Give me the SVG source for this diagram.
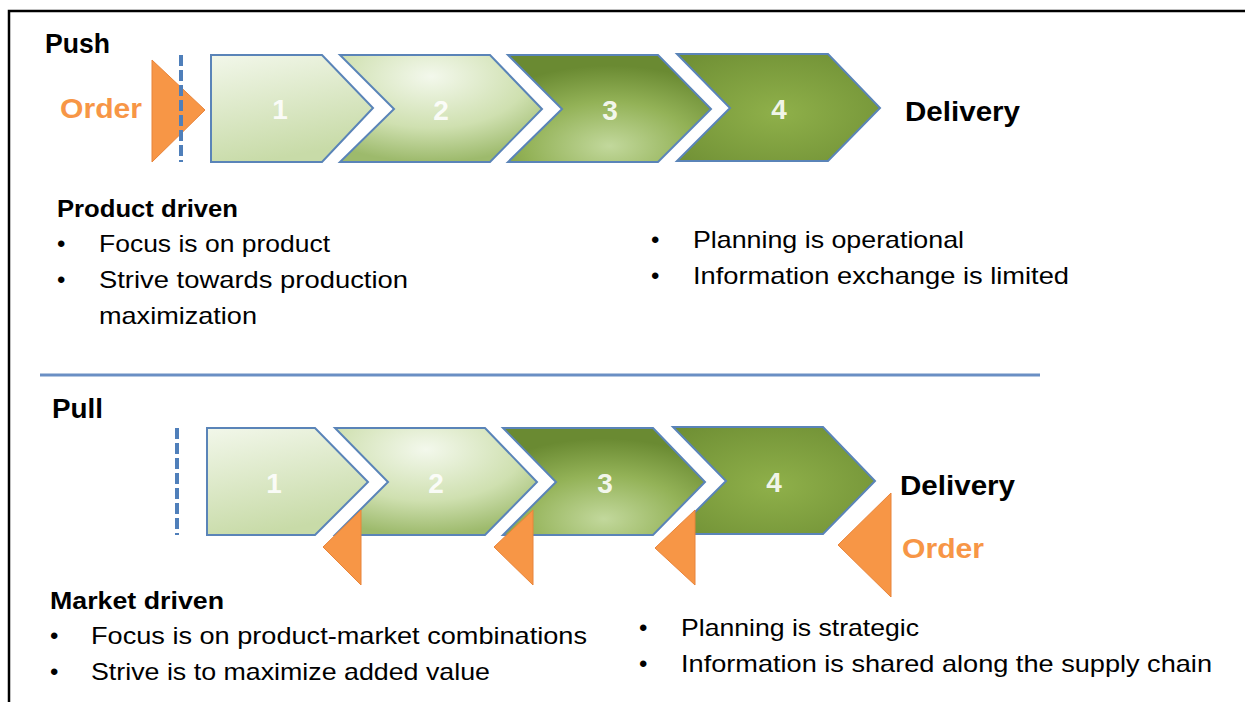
<svg xmlns="http://www.w3.org/2000/svg" width="1245" height="702" viewBox="0 0 1245 702">
<defs>
<linearGradient id="g1" x1="0" y1="0" x2="0.3" y2="1">
<stop offset="0" stop-color="#f2f7ea"/><stop offset="1" stop-color="#c8dba8"/>
</linearGradient>
<radialGradient id="g2" cx="0.45" cy="0.2" r="0.8">
<stop offset="0" stop-color="#f3f8ec"/><stop offset="0.6" stop-color="#cfe0b0"/><stop offset="1" stop-color="#9dba6c"/>
</radialGradient>
<radialGradient id="g3" cx="0.5" cy="0.85" r="0.75">
<stop offset="0" stop-color="#c2d89c"/><stop offset="0.55" stop-color="#93b257"/><stop offset="1" stop-color="#6a8a32"/>
</radialGradient>
<radialGradient id="g4" cx="0.5" cy="0.55" r="0.75">
<stop offset="0" stop-color="#8fb04a"/><stop offset="1" stop-color="#6d8d33"/>
</radialGradient>
<style>
.chev{stroke:#5a84b8;stroke-width:2;stroke-linejoin:miter}
.num{font-family:"Liberation Sans",Arial,sans-serif;font-weight:bold;font-size:28px;fill:#ffffff;fill-opacity:0.9;text-anchor:middle}
.tri{fill:#f79646;stroke:#e8843a;stroke-width:1}
.dash{stroke:#4f7fba;stroke-width:4;stroke-dasharray:11 4}
.hd{font-family:"Liberation Sans",Arial,sans-serif;font-weight:bold;fill:#000}
.ord{font-family:"Liberation Sans",Arial,sans-serif;font-weight:bold;fill:#f79646}
.tx{font-family:"Liberation Sans",Arial,sans-serif;font-size:24px;fill:#000}
</style>
</defs>
<rect x="0" y="0" width="1245" height="702" fill="#ffffff"/>
<path d="M9,702 V11 H1245" fill="none" stroke="#000" stroke-width="2.5"/>

<g id="push">
<text class="hd" x="45" y="53" font-size="27" textLength="65" lengthAdjust="spacingAndGlyphs">Push</text>
<text class="ord" x="60" y="118" font-size="28" textLength="82" lengthAdjust="spacingAndGlyphs">Order</text>
<g id="push-step1"><polygon class="chev" fill="url(#g1)" points="211,55 322,55 373,108 322,162 211,162"/><text class="num" x="280" y="119">1</text></g>
<g id="push-step2"><polygon class="chev" fill="url(#g2)" points="340,55 490,55 542,109 490,162 340,162 394,109"/><text class="num" x="441" y="120">2</text></g>
<g id="push-step3"><polygon class="chev" fill="url(#g3)" points="508,55 658,55 711,109 658,162 508,162 562,109"/><text class="num" x="610" y="120">3</text></g>
<g id="push-step4"><polygon class="chev" fill="url(#g4)" points="677,54 828,54 880,108 828,161 677,161 730,108"/><text class="num" x="779" y="119">4</text></g>
<polygon id="push-order" class="tri" points="152,60 205,110 152,162"/>
<line class="dash" x1="181" y1="55" x2="181" y2="162"/>
<text class="hd" x="905" y="121" font-size="28" textLength="115" lengthAdjust="spacingAndGlyphs">Delivery</text>
</g>

<g id="push-text">
<text class="hd" x="57" y="217" font-size="23" textLength="181" lengthAdjust="spacingAndGlyphs">Product driven</text>
<text class="tx" x="57" y="252">•</text>
<text class="tx" x="99" y="252" textLength="231" lengthAdjust="spacingAndGlyphs">Focus is on product</text>
<text class="tx" x="57" y="288">•</text>
<text class="tx" x="99" y="288" textLength="309" lengthAdjust="spacingAndGlyphs">Strive towards production</text>
<text class="tx" x="99" y="324" textLength="158" lengthAdjust="spacingAndGlyphs">maximization</text>
<text class="tx" x="651" y="248">•</text>
<text class="tx" x="693" y="248" textLength="271" lengthAdjust="spacingAndGlyphs">Planning is operational</text>
<text class="tx" x="651" y="284">•</text>
<text class="tx" x="693" y="284" textLength="376" lengthAdjust="spacingAndGlyphs">Information exchange is limited</text>
</g>

<line id="separator" x1="40" y1="375" x2="1040" y2="375" stroke="#6a8fc4" stroke-width="3"/>

<g id="pull">
<text class="hd" x="52" y="418" font-size="27" textLength="51" lengthAdjust="spacingAndGlyphs">Pull</text>
<line class="dash" x1="177" y1="428" x2="177" y2="535"/>
<g id="pull-step1"><polygon class="chev" fill="url(#g1)" points="207,428 315,428 368,482 315,535 207,535"/><text class="num" x="274" y="493">1</text></g>
<g id="pull-step2"><polygon class="chev" fill="url(#g2)" points="335,428 485,428 537,482 485,535 335,535 388,482"/><text class="num" x="436" y="493">2</text></g>
<g id="pull-step3"><polygon class="chev" fill="url(#g3)" points="503,428 653,428 705,482 653,535 503,535 556,482"/><text class="num" x="605" y="493">3</text></g>
<g id="pull-step4"><polygon class="chev" fill="url(#g4)" points="673,427 823,427 875,481 823,534 673,534 726,481"/><text class="num" x="774" y="492">4</text></g>
<polygon id="pull-order1" class="tri" points="361,510 361,585 323,547"/>
<polygon id="pull-order2" class="tri" points="533,510 533,585 494,547"/>
<polygon id="pull-order3" class="tri" points="695,510 695,585 655,548"/>
<polygon id="pull-order4" class="tri" points="891,493 891,597 838,545"/>
<text class="hd" x="900" y="495" font-size="28" textLength="115" lengthAdjust="spacingAndGlyphs">Delivery</text>
<text class="ord" x="902" y="558" font-size="28" textLength="82" lengthAdjust="spacingAndGlyphs">Order</text>
</g>

<g id="pull-text">
<text class="hd" x="50" y="609" font-size="23" textLength="174" lengthAdjust="spacingAndGlyphs">Market driven</text>
<text class="tx" x="50" y="644">•</text>
<text class="tx" x="91" y="644" textLength="496" lengthAdjust="spacingAndGlyphs">Focus is on product-market combinations</text>
<text class="tx" x="50" y="680">•</text>
<text class="tx" x="91" y="680" textLength="399" lengthAdjust="spacingAndGlyphs">Strive is to maximize added value</text>
<text class="tx" x="639" y="636">•</text>
<text class="tx" x="681" y="636" textLength="238" lengthAdjust="spacingAndGlyphs">Planning is strategic</text>
<text class="tx" x="639" y="672">•</text>
<text class="tx" x="681" y="672" textLength="531" lengthAdjust="spacingAndGlyphs">Information is shared along the supply chain</text>
</g>
</svg>
